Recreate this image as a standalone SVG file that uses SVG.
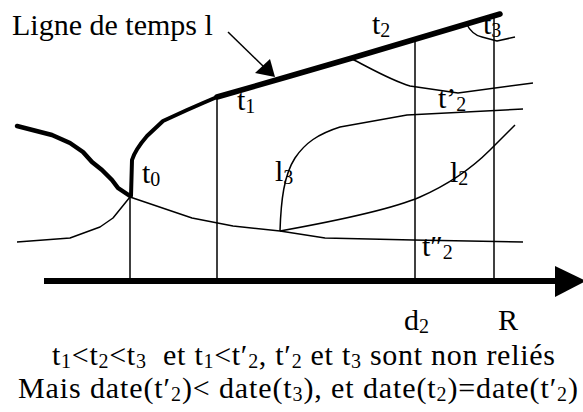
<svg xmlns="http://www.w3.org/2000/svg" width="583" height="412" viewBox="0 0 583 412">
<style>
text{font-family:"Liberation Serif","Times New Roman",serif;font-size:30px;fill:#000}
.sub{font-size:20px}
.thin{fill:none;stroke:#000;stroke-width:1.5;stroke-linejoin:round}
.thick{fill:none;stroke:#000;stroke-width:4.5;stroke-linejoin:round;stroke-linecap:round}
.vline{stroke:#000;stroke-width:1.5}
</style>
<rect width="583" height="412" fill="#fff"/>
<g id="connectors">
<path class="thick" d="M17,126 L52,135 L70,143 L83,152 L92,162 L102,170 L112,180 L118,188 L130,196"/>
<path class="thick" style="stroke-width:4" d="M131,196 L132,160 Q135,150 147,136 L163,121 L187,110 L203,103 L217,97"/>
<path class="thick" style="stroke-width:5.5" d="M217,97 L290,76 L352,58 L500,14"/>
<path class="thin" d="M17,242 L70,238 L100,227 L113,218 L130,197"/>
<path class="thin" d="M130,197 L192,218 L233,226 L280,231 L325,238 L413,240 L523,242"/>
<path class="thin" d="M280,231 C281,200 284,175 295,158 C305,143 318,134 340,127 L407,115 L523,109"/>
<path class="thin" d="M280,231 C330,222 390,210 420,197 C445,186 470,170 490,150 L515,125"/>
<path class="thin" d="M352,59 C370,68 390,80 410,86 L458,93 L533,83"/>
<path class="thin" d="M466,23 Q472,35 482,37 L497,41 L515,37"/>
<line class="vline" x1="130" y1="197" x2="130" y2="281"/>
<line class="vline" x1="217" y1="97" x2="217" y2="281"/>
<line class="vline" x1="415" y1="39" x2="415" y2="281"/>
<line class="vline" x1="494" y1="15" x2="494" y2="281"/>
<line x1="44" y1="281" x2="560" y2="281" stroke="#000" stroke-width="6"/>
<polygon points="555,266 586,281 555,297" fill="#000"/>
<line x1="228" y1="32" x2="264" y2="67" stroke="#000" stroke-width="1.5"/>
<polygon points="255,73 270,59 275,77" fill="#000"/>
</g>
<g id="title"><text x="12" y="35">Ligne de temps l</text></g>
<g id="t0"><text x="142" y="183">t<tspan class="sub" dy="3">0</tspan></text></g>
<g id="t1"><text x="237" y="110">t<tspan class="sub" dy="3">1</tspan></text></g>
<g id="t2"><text x="372" y="34">t<tspan class="sub" dy="3">2</tspan></text></g>
<g id="t3"><text x="483" y="34">t<tspan class="sub" dy="3">3</tspan></text></g>
<g id="tp2"><text x="438" y="108">t’<tspan class="sub" dy="3">2</tspan></text></g>
<g id="l3"><text x="275" y="181">l<tspan class="sub" dy="3">3</tspan></text></g>
<g id="l2"><text x="450" y="182">l<tspan class="sub" dy="3">2</tspan></text></g>
<g id="tpp2"><text x="422" y="256">t″<tspan class="sub" dy="3">2</tspan></text></g>
<g id="d2"><text x="404" y="330">d<tspan class="sub" dy="3">2</tspan></text></g>
<g id="R"><text x="498" y="330">R</text></g>
<g id="caption">
<text x="52" y="365" textLength="503" lengthAdjust="spacing">t<tspan class="sub" dy="3">1</tspan><tspan dy="-3">&lt;t</tspan><tspan class="sub" dy="3">2</tspan><tspan dy="-3">&lt;t</tspan><tspan class="sub" dy="3">3</tspan><tspan dy="-3" xml:space="preserve">  et t</tspan><tspan class="sub" dy="3">1</tspan><tspan dy="-3">&lt;t′</tspan><tspan class="sub" dy="3">2</tspan><tspan dy="-3">, t′</tspan><tspan class="sub" dy="3">2</tspan><tspan dy="-3"> et t</tspan><tspan class="sub" dy="3">3</tspan><tspan dy="-3"> sont non reliés</tspan></text>
<text x="18" y="398" textLength="560" lengthAdjust="spacing">Mais date(t′<tspan class="sub" dy="3">2</tspan><tspan dy="-3">)&lt; date(t</tspan><tspan class="sub" dy="3">3</tspan><tspan dy="-3">), et date(t</tspan><tspan class="sub" dy="3">2</tspan><tspan dy="-3">)=date(t′</tspan><tspan class="sub" dy="3">2</tspan><tspan dy="-3">)</tspan></text>
</g>
</svg>
